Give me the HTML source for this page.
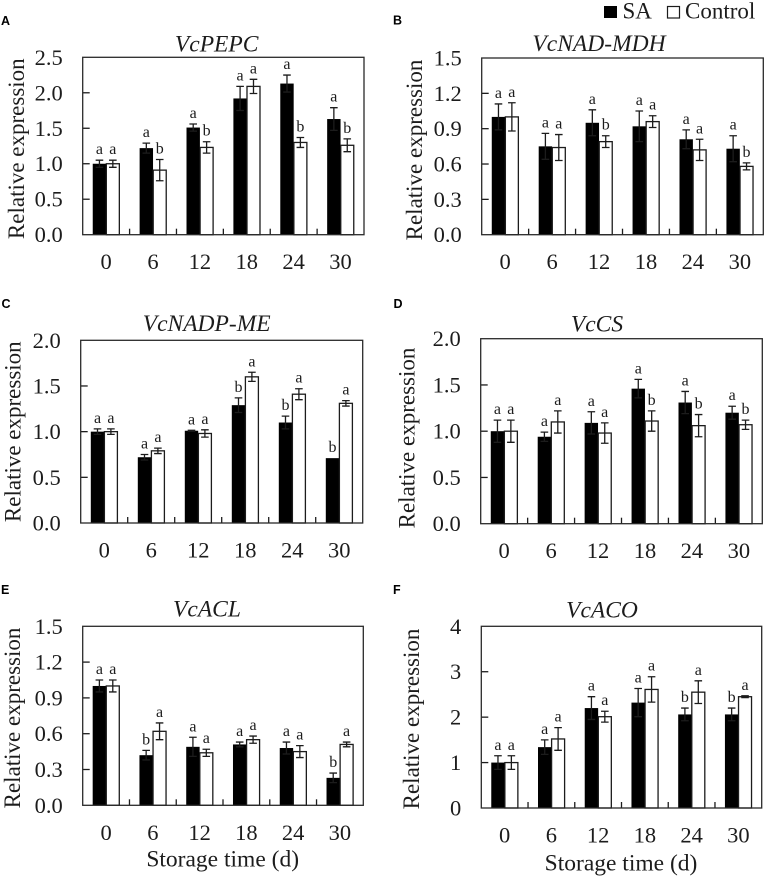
<!DOCTYPE html>
<html lang="en">
<head>
<meta charset="utf-8">
<title>Relative expression of six genes during storage</title>
<style>
html,body{margin:0;padding:0;background:#fff;width:767px;height:879px;overflow:hidden}
svg{display:block;font-family:"Liberation Serif",serif;fill:#1c1c1c}
.tick{font-size:22.5px}
.ytitle{font-size:23px}
.xtitle{font-size:23.5px}
.title{font-size:23.5px;font-style:italic}
.sig{font-size:16px}
.panel-letter{font-family:"Liberation Sans",sans-serif;font-weight:bold;font-size:12.5px;fill:#000}
</style>
</head>
<body>
<svg id="chart" xmlns="http://www.w3.org/2000/svg" width="767" height="879" viewBox="0 0 767 879">
  <g>
    <rect x="604" y="6" width="13" height="12" fill="#000"/>
    <text x="622.5" y="18.5" font-size="23">SA</text>
    <rect x="667.5" y="6.5" width="12" height="11.5" fill="#fff" stroke="#1c1c1c" stroke-width="1.2"/>
    <text x="685" y="18.5" font-size="23">Control</text>
  </g>
</svg>
<script>
const categories = ['0','6','12','18','24','30'];

const ticksA = ['0.0','0.5','1.0','1.5','2.0','2.5'];
const saA = [1.00,1.22,1.51,1.92,2.13,1.63];
const saErrA = [0.05,0.07,0.05,0.17,0.12,0.16];
const ctrlA = [1.00,0.91,1.23,2.09,1.30,1.26];
const ctrlErrA = [0.05,0.15,0.08,0.10,0.07,0.09];
const saSigA = ['a','a','a','a','a','a'];
const ctrlSigA = ['a','b','b','a','b','b'];

const ticksB = ['0.0','0.3','0.6','0.9','1.2','1.5'];
const saB = [1.00,0.75,0.95,0.92,0.81,0.73];
const saErrB = [0.11,0.11,0.11,0.13,0.08,0.11];
const ctrlB = [1.00,0.74,0.79,0.96,0.72,0.58];
const ctrlErrB = [0.12,0.11,0.05,0.05,0.09,0.03];
const saSigB = ['a','a','a','a','a','a'];
const ctrlSigB = ['a','a','b','a','a','b'];

const ticksC = ['0.0','0.5','1.0','1.5','2.0'];
const saC = [1.00,0.72,1.01,1.29,1.10,0.71];
const saErrC = [0.03,0.03,0.005,0.08,0.07,0];
const ctrlC = [1.00,0.79,0.98,1.60,1.41,1.31];
const ctrlErrC = [0.03,0.03,0.04,0.05,0.06,0.03];
const saSigC = ['a','a','a','b','b','b'];
const ctrlSigC = ['a','a','a','a','a','a'];

const ticksD = ['0.0','0.5','1.0','1.5','2.0'];
const saD = [1.00,0.94,1.09,1.46,1.31,1.20];
const saErrD = [0.12,0.05,0.12,0.10,0.12,0.07];
const ctrlD = [1.00,1.10,0.98,1.11,1.06,1.07];
const ctrlErrD = [0.12,0.12,0.11,0.11,0.12,0.05];
const saSigD = ['a','a','a','a','a','a'];
const ctrlSigD = ['a','a','a','b','b','b'];

const ticksE = ['0.0','0.3','0.6','0.9','1.2','1.5'];
const saE = [1.00,0.42,0.49,0.51,0.48,0.23];
const saErrE = [0.05,0.04,0.08,0.02,0.05,0.04];
const ctrlE = [1.00,0.62,0.44,0.55,0.45,0.51];
const ctrlErrE = [0.05,0.07,0.03,0.03,0.05,0.02];
const saSigE = ['a','b','a','a','a','b'];
const ctrlSigE = ['a','a','a','a','a','a'];

const ticksF = ['0','1','2','3','4'];
const saF = [1.00,1.34,2.20,2.32,2.06,2.06];
const saErrF = [0.15,0.16,0.25,0.31,0.14,0.14];
const ctrlF = [1.00,1.52,2.01,2.61,2.55,2.45];
const ctrlErrF = [0.15,0.25,0.12,0.28,0.25,0.02];
const saSigF = ['a','a','a','a','b','b'];
const ctrlSigF = ['a','a','a','a','a','a'];

const svg = document.getElementById('chart');
const NS = 'http://www.w3.org/2000/svg';
const INK = '#1c1c1c';

function make(parent, tag, attrs, text) {
  const el = document.createElementNS(NS, tag);
  for (const k in attrs) el.setAttribute(k, attrs[k]);
  if (text !== undefined) el.textContent = text;
  parent.appendChild(el);
  return el;
}

function drawPanel(p) {
  const group = make(svg, 'g', {});
  
  

  const maxVal = parseFloat(p.ticks[p.ticks.length - 1]);
  const yScale = v => p.bottom - (v / maxVal) * (p.bottom - p.top);
  const step = (p.right - p.left) / categories.length;
  const xCenter = i => p.left + step * (i + 0.5);
  const barW = 13.4;

  const letter = make(group, 'text', {class: 'panel-letter', x: p.letterX, y: p.letterY}, p.letter);
  
  

  const title = make(group, 'text', {class: 'title', x: p.titleX, y: p.titleY, 'text-anchor': 'middle'}, p.title);
  
  

  const yTitle = make(group, 'text', {class: 'ytitle', 'text-anchor': 'middle', transform: 'translate(' + p.yTitleX + ' ' + p.yTitleY + ') rotate(-90)'}, 'Relative expression');
  
  

  function drawBar(i, value, err, sig, isSa) {
    const cx = isSa ? xCenter(i) - barW / 2 : xCenter(i) + barW / 2;
    const y = yScale(value);
    const series = isSa ? 'sa' : 'control';
    const bar = make(group, 'rect', {
      x: cx - barW / 2 + (isSa ? 0 : 0.2),
      y: y,
      width: barW - (isSa ? 0 : 0.4),
      height: p.bottom - y,
      fill: isSa ? '#000' : '#fff',
      stroke: isSa ? 'none' : INK,
      'stroke-width': 1.3
    });
    
    

    const yTop = yScale(value + err);
    const yLow = yScale(value - err);
    if (err > 0) {
      const whisker = make(group, 'path', {
        d: 'M' + cx + ' ' + yTop + 'V' + yLow +
           'M' + (cx - 3.8) + ' ' + yTop + 'H' + (cx + 3.8) +
           'M' + (cx - 3.8) + ' ' + yLow + 'H' + (cx + 3.8),
        fill: 'none', stroke: INK, 'stroke-width': 1.3
      });
      
      
    }

    const label = make(group, 'text', {class: 'sig', x: cx, y: yTop - 6, 'text-anchor': 'middle'}, sig);
    
    
  }

  categories.forEach((c, i) => {
    drawBar(i, p.sa[i], p.saErr[i], p.saSig[i], true);
    drawBar(i, p.ctrl[i], p.ctrlErr[i], p.ctrlSig[i], false);
    const xl = make(group, 'text', {class: 'tick', x: xCenter(i), y: p.bottom + 34.5, 'text-anchor': 'middle'}, c);
    
    
    if (i > 0) {
      const xt = make(group, 'line', {x1: p.left + step * i, x2: p.left + step * i, y1: p.bottom, y2: p.bottom - 6, stroke: INK, 'stroke-width': 1.3});
      
      
    }
  });

  p.ticks.forEach((t, i) => {
    const y = yScale(parseFloat(t));
    const yl = make(group, 'text', {class: 'tick', x: p.left - 20, y: y + 7.5, 'text-anchor': 'end'}, t);
    
    
    if (i > 0 && i < p.ticks.length - 1) {
      const yt = make(group, 'line', {x1: p.left, x2: p.left + 7, y1: y, y2: y, stroke: INK, 'stroke-width': 1.3});
      
      
    }
  });

  const frame = make(group, 'rect', {x: p.left, y: p.top, width: p.right - p.left, height: p.bottom - p.top, fill: 'none', stroke: '#2a2a2a', 'stroke-width': 1.3});
  
  

  if (p.xTitleX) {
    const xTitle = make(group, 'text', {class: 'xtitle', x: p.xTitleX, y: p.xTitleY, 'text-anchor': 'middle'}, 'Storage time (d)');
    
    
  }
}

drawPanel({letter:'A', title:'VcPEPC', ticks:ticksA, sa:saA, saErr:saErrA, ctrl:ctrlA, ctrlErr:ctrlErrA, saSig:saSigA, ctrlSig:ctrlSigA,
  left:82.7, right:364, top:57.3, bottom:234.7, letterX:1, letterY:25, titleX:216.7, titleY:51.7, yTitleX:24, yTitleY:148.7});
drawPanel({letter:'B', title:'VcNAD-MDH', ticks:ticksB, sa:saB, saErr:saErrB, ctrl:ctrlB, ctrlErr:ctrlErrB, saSig:saSigB, ctrlSig:ctrlSigB,
  left:481.7, right:763.3, top:58, bottom:234.7, letterX:393, letterY:24.3, titleX:599, titleY:51, yTitleX:422, yTitleY:150});
drawPanel({letter:'C', title:'VcNADP-ME', ticks:ticksC, sa:saC, saErr:saErrC, ctrl:ctrlC, ctrlErr:ctrlErrC, saSig:saSigC, ctrlSig:ctrlSigC,
  left:80.7, right:362.7, top:340.3, bottom:523, letterX:1.5, letterY:308, titleX:206.7, titleY:331, yTitleX:20.7, yTitleY:431.7});
drawPanel({letter:'D', title:'VcCS', ticks:ticksD, sa:saD, saErr:saErrD, ctrl:ctrlD, ctrlErr:ctrlErrD, saSig:saSigD, ctrlSig:ctrlSigD,
  left:480.7, right:762.3, top:338.7, bottom:523.7, letterX:393.5, letterY:308, titleX:597, titleY:331.7, yTitleX:414.7, yTitleY:438});
drawPanel({letter:'E', title:'VcACL', ticks:ticksE, sa:saE, saErr:saErrE, ctrl:ctrlE, ctrlErr:ctrlErrE, saSig:saSigE, ctrlSig:ctrlSigE,
  left:82.7, right:363.3, top:626.3, bottom:805.3, letterX:1, letterY:594, titleX:207, titleY:616.7, yTitleX:20, yTitleY:718, xTitleX:222.7, xTitleY:866.7});
drawPanel({letter:'F', title:'VcACO', ticks:ticksF, sa:saF, saErr:saErrF, ctrl:ctrlF, ctrlErr:ctrlErrF, saSig:saSigF, ctrlSig:ctrlSigF,
  left:481.3, right:761.7, top:626.3, bottom:808, letterX:393, letterY:594, titleX:602, titleY:617.3, yTitleX:419, yTitleY:719, xTitleX:621, xTitleY:870.7});
</script>
</body>
</html>
